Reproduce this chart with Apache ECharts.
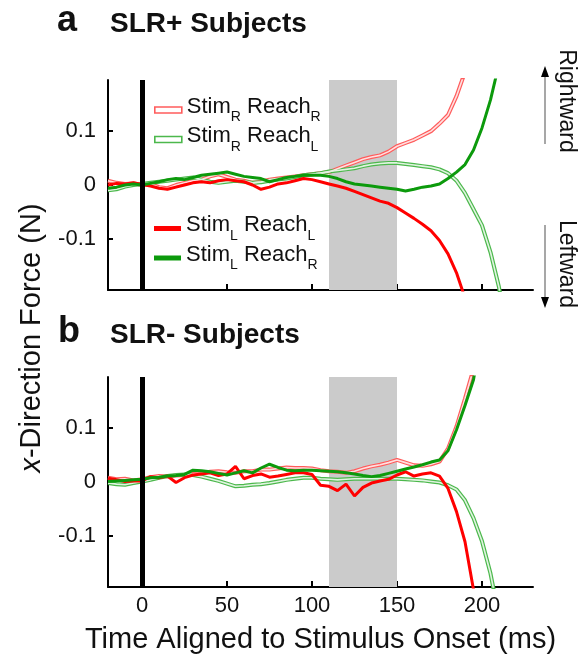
<!DOCTYPE html>
<html><head><meta charset="utf-8">
<script src="https://cdn.jsdelivr.net/npm/echarts@6/dist/echarts.min.js"></script>
<style>html,body{margin:0;padding:0;background:#fff}#c{width:579px;height:656px}</style>
</head><body><div id="c"></div>
<script>
// ---------- data ----------
const times = [-20,-15,-10,-5,0,5,10,15,20,25,30,35,40,45,50,55,60,65,70,75,80,85,90,95,100,105,110,115,120,125,130,135,140,145,150,155,160,165,170,175,180,185,190,195,200,205,210,215];
const xTickValues = [0,50,100,150,200];
const xTickLabels = ['0','50','100','150','200'];
const yTickValues = [-0.1,0,0.1];
const yTickLabels = ['-0.1','0','0.1'];
const shadeStart = 110, shadeEnd = 150;
const stimulusOnset = 0;
const panelLetters = ['a','b'];
const panelTitles = ['SLR+ Subjects','SLR- Subjects'];
const xAxisTitle = 'Time Aligned to Stimulus Onset (ms)';
const yAxisTitle = 'x-Direction Force (N)';
const seriesKeys = ['SR_RR','SR_RL','SL_RL','SL_RR'];
const legendStim = ['R','R','L','L'];
const legendReach = ['R','L','L','R'];

// Panel a (SLR+)
const aStimRReachR = [0.008,0.004,0.002,0.003,0.0,0.002,-0.004,-0.006,0.0,0.004,0.008,0.01,0.016,0.02,0.015,0.01,0.008,0.004,0.006,0.01,0.012,0.014,0.016,0.018,0.02,0.022,0.024,0.03,0.036,0.042,0.048,0.052,0.055,0.062,0.072,0.078,0.084,0.092,0.1,0.114,0.13,0.165,0.21];
const aStimRReachL = [-0.01,-0.008,-0.003,0.0,0.002,0.004,0.006,0.008,0.01,0.012,0.014,0.01,0.006,0.004,0.006,0.008,0.006,0.004,0.005,0.008,0.01,0.012,0.015,0.018,0.02,0.022,0.025,0.027,0.029,0.031,0.035,0.038,0.04,0.041,0.041,0.039,0.037,0.035,0.033,0.029,0.022,0.008,-0.015,-0.045,-0.075,-0.125,-0.19,-0.28];
const aStimLReachL = [0.0,0.003,0.002,0.004,0.001,-0.002,-0.006,-0.008,-0.004,0.0,0.004,0.006,0.004,0.008,0.01,0.008,0.006,0.0,-0.008,-0.004,0.002,0.004,0.008,0.012,0.01,0.006,0.002,-0.002,-0.006,-0.012,-0.018,-0.024,-0.03,-0.034,-0.042,-0.052,-0.062,-0.073,-0.085,-0.103,-0.128,-0.163,-0.21];
const aStimLReachR = [-0.006,-0.004,0.0,0.002,0.0,0.003,0.006,0.01,0.012,0.01,0.014,0.018,0.02,0.022,0.024,0.02,0.016,0.014,0.012,0.006,0.01,0.014,0.016,0.018,0.018,0.018,0.016,0.012,0.006,0.002,0.0,-0.002,-0.004,-0.006,-0.008,-0.011,-0.008,-0.004,-0.002,0.002,0.012,0.024,0.038,0.065,0.106,0.158,0.225];

// Panel b (SLR-)
const bStimRReachR = [0.008,0.005,0.006,0.003,0.005,0.009,0.011,0.01,0.012,0.013,0.015,0.016,0.019,0.02,0.018,0.017,0.02,0.02,0.023,0.023,0.025,0.027,0.026,0.026,0.025,0.022,0.02,0.019,0.017,0.02,0.025,0.029,0.032,0.036,0.041,0.036,0.031,0.03,0.033,0.038,0.062,0.103,0.155,0.21];
const bStimRReachL = [-0.002,-0.004,-0.005,-0.002,0.001,0.004,0.008,0.011,0.013,0.014,0.013,0.01,0.006,0.002,-0.003,-0.008,-0.007,-0.005,-0.004,-0.002,0.001,0.004,0.006,0.008,0.008,0.006,0.005,0.004,0.005,0.006,0.006,0.006,0.006,0.006,0.006,0.005,0.004,0.003,0.001,-0.001,-0.006,-0.014,-0.034,-0.067,-0.11,-0.17,-0.25];
const bStimLReachL = [0.007,0.004,0.001,0.002,0.002,0.01,0.008,0.011,-0.001,0.008,0.013,0.015,0.017,0.012,0.015,0.029,0.006,0.012,0.015,0.009,0.011,0.014,0.017,0.017,0.014,-0.006,-0.008,-0.016,-0.004,-0.026,-0.01,-0.002,0.002,0.005,0.013,0.019,0.011,0.015,0.017,0.011,-0.012,-0.055,-0.111,-0.2];
const bStimLReachR = [0.001,0.002,0.003,0.004,0.005,0.008,0.009,0.011,0.012,0.014,0.022,0.021,0.019,0.016,0.013,0.017,0.021,0.017,0.026,0.033,0.027,0.022,0.021,0.022,0.022,0.021,0.02,0.019,0.017,0.015,0.012,0.01,0.012,0.016,0.02,0.024,0.028,0.032,0.037,0.041,0.058,0.097,0.142,0.19,0.28];

// ---------- styling ----------
const FONT = '"Liberation Sans", Arial, Helvetica, sans-serif';
const styles = {
  SR_RR: {hollow:true, outer:'#ff5c5c', inner:'#ffe0e0'},
  SR_RL: {hollow:true, outer:'#4cb84c', inner:'#e0f4e0'},
  SL_RL: {hollow:false, color:'#ff0000'},
  SL_RR: {hollow:false, color:'#0c9a0c'}
};
const panelData = [
  {SR_RR:aStimRReachR, SR_RL:aStimRReachL, SL_RL:aStimLReachL, SL_RR:aStimLReachR},
  {SR_RR:bStimRReachR, SR_RL:bStimRReachL, SL_RL:bStimLReachL, SL_RR:bStimLReachR}
];
function pairs(vals){
  const out=[];
  for(let i=0;i<vals.length && i<times.length;i++){ if(vals[i]!=null) out.push([times[i], vals[i]]); }
  return out;
}

const series = [];
panelData.forEach((pd, gi) => {
  series.push({type:'line', data:[], xAxisIndex:gi, yAxisIndex:gi, silent:true,
    markArea:{silent:true, z:1, itemStyle:{color:'#cbcbcb'}, label:{show:false},
      data:[[{xAxis:shadeStart},{xAxis:shadeEnd}]]}});
  seriesKeys.forEach(k => {
    const s = styles[k];
    const d = pairs(pd[k]);
    if (s.hollow) {
      series.push({type:'line', name:k, xAxisIndex:gi, yAxisIndex:gi, data:d, symbol:'none', silent:true,
        z:2, lineStyle:{color:s.outer, width:4}, itemStyle:{color:s.outer}});
      series.push({type:'line', name:k+'_inner', xAxisIndex:gi, yAxisIndex:gi, data:d, symbol:'none', silent:true,
        z:3, lineStyle:{color:s.inner, width:1.6}, itemStyle:{color:s.inner}});
    } else {
      series.push({type:'line', name:k, xAxisIndex:gi, yAxisIndex:gi, data:d, symbol:'none', silent:true,
        z:4, lineStyle:{color:s.color, width:3}, itemStyle:{color:s.color}});
    }
  });
  series.push({type:'line', data:[], xAxisIndex:gi, yAxisIndex:gi, silent:true,
    markLine:{silent:true, z:10, symbol:['none','none'], label:{show:false}, animation:false,
      lineStyle:{color:'#000', width:5, type:'solid'}, data:[{xAxis:stimulusOnset}]}});
});

const grids = [
  {left:108, top:80, width:425, height:210},
  {left:108, top:377, width:425, height:210}
];
const xAxes = grids.map((g, gi) => ({
  gridIndex:gi, type:'value', min:-20, max:230,
  axisLine:{show:true, onZero:false, lineStyle:{color:'#000', width:2}},
  axisTick:{show:true, inside:true, length:6, customValues:xTickValues, lineStyle:{color:'#000', width:2}},
  axisLabel:{show:gi===1, customValues:xTickValues, margin:8, fontSize:22, color:'#111', fontFamily:FONT,
    formatter:(v)=>xTickLabels[xTickValues.indexOf(v)]},
  splitLine:{show:false},
  name: gi===1 ? xAxisTitle : '', nameLocation:'middle', nameGap:38,
  nameTextStyle:{fontSize:29, color:'#111', fontFamily:FONT}
}));
const yAxes = grids.map((g, gi) => ({
  gridIndex:gi, type:'value', min:-0.195, max:0.195,
  axisLine:{show:true, onZero:false, lineStyle:{color:'#000', width:2}},
  axisTick:{show:true, inside:true, length:5, customValues:yTickValues, lineStyle:{color:'#000', width:2}},
  axisLabel:{show:true, customValues:yTickValues, margin:12, fontSize:22, color:'#111', fontFamily:FONT,
    formatter:(v)=>{const i=yTickValues.findIndex(t=>Math.abs(t-v)<1e-9); return i>=0?yTickLabels[i]:'';}},
  splitLine:{show:false}
}));

function legendFmt(name){
  const i = seriesKeys.indexOf(name);
  return '{m|Stim}{s|'+legendStim[i]+'} {m|Reach}{s|'+legendReach[i]+'}';
}
function legendItem(k){
  const s = styles[k];
  return s.hollow
    ? {name:k, icon:'rect', itemStyle:{color:'#ffffff', borderColor:s.outer, borderWidth:1.6}}
    : {name:k, icon:'rect', itemStyle:{color:s.color, borderWidth:0}};
}
const legendText = {color:'#111', fontFamily:FONT, fontSize:22,
  rich:{ m:{fontSize:22, fontFamily:FONT, color:'#111', lineHeight:29, verticalAlign:'top'},
         s:{fontSize:14, fontFamily:FONT, color:'#111', lineHeight:14, verticalAlign:'bottom'} }};
const legends = [
  {data:[legendItem('SR_RR'), legendItem('SR_RL')], orient:'vertical', left:154, top:95.5, padding:0,
   itemWidth:27, itemHeight:6, itemGap:0.5, selectedMode:false, formatter:legendFmt, textStyle:legendText},
  {data:[legendItem('SL_RL'), legendItem('SL_RR')], orient:'vertical', left:154, top:214, padding:0,
   itemWidth:27, itemHeight:5, itemGap:0.5, selectedMode:false, formatter:legendFmt, textStyle:legendText}
];

const graphic = [
  {type:'text', x:57, y:21, style:{text:panelLetters[0], font:'bold 36px '+FONT, fill:'#111', verticalAlign:'middle'}},
  {type:'text', x:110, y:24, style:{text:panelTitles[0], font:'bold 28px '+FONT, fill:'#111', verticalAlign:'middle'}},
  {type:'text', x:58, y:332, style:{text:panelLetters[1], font:'bold 36px '+FONT, fill:'#111', verticalAlign:'middle'}},
  {type:'text', x:110, y:335, style:{text:panelTitles[1], font:'bold 28px '+FONT, fill:'#111', verticalAlign:'middle'}},
  {type:'text', x:32, y:338, rotation:Math.PI/2,
   style:{text:'{i|x}'+yAxisTitle.slice(1), font:'29px '+FONT, fill:'#111', align:'center', verticalAlign:'middle',
     rich:{i:{fontStyle:'italic', fontSize:29, fontFamily:FONT, fill:'#111'}}}},
  {type:'line', shape:{x1:545, y1:75, x2:545, y2:144}, style:{stroke:'#8a8a8a', lineWidth:1.5}},
  {type:'polygon', shape:{points:[[545,66],[541,77],[549,77]]}, style:{fill:'#000'}},
  {type:'line', shape:{x1:545, y1:225, x2:545, y2:299}, style:{stroke:'#8a8a8a', lineWidth:1.5}},
  {type:'polygon', shape:{points:[[545,308],[541,297],[549,297]]}, style:{fill:'#000'}},
  {type:'text', x:566, y:101, rotation:-Math.PI/2,
   style:{text:'Rightward', font:'23px '+FONT, fill:'#111', align:'center', verticalAlign:'middle'}},
  {type:'text', x:566, y:264, rotation:-Math.PI/2,
   style:{text:'Leftward', font:'23px '+FONT, fill:'#111', align:'center', verticalAlign:'middle'}}
];

const chart = echarts.init(document.getElementById('c'), null, {renderer:'canvas'});
chart.setOption({
  animation:false,
  backgroundColor:'#ffffff',
  grid:grids, xAxis:xAxes, yAxis:yAxes,
  legend:legends, series:series, graphic:graphic
});
</script></body></html>
